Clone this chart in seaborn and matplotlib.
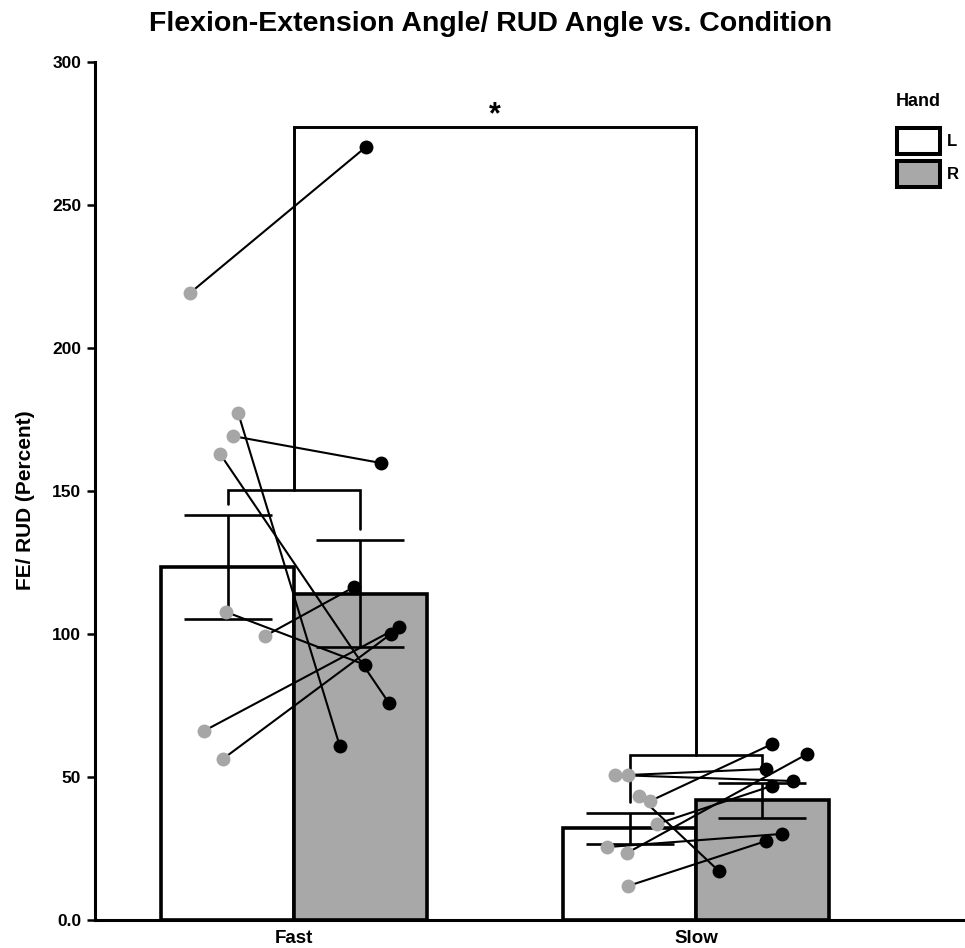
import matplotlib
matplotlib.use('Agg')
import matplotlib.pyplot as plt
import seaborn as sns
import pandas as pd
from matplotlib.patches import Patch

# ---------------- data ----------------
conditions = ['Fast', 'Slow']
hands = ['L', 'R']
mean_L = [123.4, 32.0]
mean_R = [114.0, 41.9]
sem_L = [18.2, 5.4]
sem_R = [18.7, 6.1]

# individual subjects (paired L -> R, same order)
fast_L = [219.2, 177.3, 169.2, 163.0, 107.7, 99.3, 66.1, 56.3]
fast_R = [270.3, 60.8, 159.8, 75.9, 89.2, 116.4, 102.4, 100.0]
slow_L = [50.7, 50.7, 43.4, 41.6, 33.6, 25.5, 23.4, 11.9]
slow_R = [48.6, 52.8, 17.1, 61.5, 46.9, 30.1, 58.0, 27.6]

# horizontal jitter of the subject points (category units)
jit_fast_L = [-0.259, -0.139, -0.152, -0.184, -0.169, -0.072, -0.224, -0.177]
jit_fast_R = [0.179, 0.114, 0.216, 0.236, 0.177, 0.149, 0.261, 0.241]
jit_slow_L = [-0.201, -0.169, -0.142, -0.114, -0.097, -0.221, -0.172, -0.169]
jit_slow_R = [0.241, 0.174, 0.057, 0.189, 0.189, 0.214, 0.276, 0.174]

# significance brackets
bracket_within = [150.3, 57.7]
bracket_between = 277.3
sig_label = '*'

# ---------------- style ----------------
sns.set_style('white')
FONT = ['Liberation Sans', 'DejaVu Sans']
plt.rcParams['font.family'] = FONT
plt.rcParams['font.weight'] = 'bold'
for k in ['text.color', 'axes.labelcolor', 'xtick.color', 'ytick.color',
          'axes.edgecolor']:
    plt.rcParams[k] = 'black'

GRAY_BAR = '#a8a8a8'
GRAY_PT = '#a6a6a6'

fig = plt.figure(figsize=(9.65, 9.48), dpi=100)
ax = fig.add_axes([95 / 965, 1 - 920 / 948, 1 - 95 / 965, (920 - 62) / 948])

df = pd.DataFrame({
    'Condition': conditions * 2,
    'Hand': [hands[0]] * 2 + [hands[1]] * 2,
    'Value': mean_L + mean_R,
})
sns.barplot(data=df, x='Condition', y='Value', hue='Hand', order=conditions,
            hue_order=hands, palette={'L': 'white', 'R': GRAY_BAR},
            width=0.66, edgecolor='black', linewidth=2.6, errorbar=None,
            saturation=1, legend=False, ax=ax, zorder=2)

off = 0.165
xL = [i - off for i in range(len(conditions))]
xR = [i + off for i in range(len(conditions))]
ax.errorbar(xL, mean_L, yerr=sem_L, fmt='none', ecolor='black',
            elinewidth=1.9, capsize=32, capthick=1.9, zorder=3)
ax.errorbar(xR, mean_R, yerr=sem_R, fmt='none', ecolor='black',
            elinewidth=1.9, capsize=32, capthick=1.9, zorder=3)

# paired subject points
pairs = [(fast_L, fast_R, jit_fast_L, jit_fast_R, 0),
         (slow_L, slow_R, jit_slow_L, jit_slow_R, 1)]
for vL, vR, jL, jR, ci in pairs:
    for a, b, ja, jb in zip(vL, vR, jL, jR):
        ax.plot([ci + ja, ci + jb], [a, b], color='black', lw=1.5, zorder=4)
    ax.scatter([ci + j for j in jL], vL, s=100, color=GRAY_PT, zorder=5,
               linewidths=0)
    ax.scatter([ci + j for j in jR], vR, s=100, color='black', zorder=5,
               linewidths=0)

# within-condition brackets
tops_L = [m + s for m, s in zip(mean_L, sem_L)]
tops_R = [m + s for m, s in zip(mean_R, sem_R)]
for ci in range(len(conditions)):
    yb = bracket_within[ci]
    ax.plot([xL[ci], xL[ci], xR[ci], xR[ci]],
            [tops_L[ci] + 4, yb, yb, tops_R[ci] + 4],
            color='black', lw=1.9, zorder=3, solid_joinstyle='miter')
# between-condition bracket
ax.plot([0, 0, 1, 1], [bracket_within[0], bracket_between, bracket_between,
                       bracket_within[1]],
        color='black', lw=2.1, zorder=3, solid_joinstyle='miter')
ax.text(0.5, bracket_between - 1.0, sig_label, ha='center', va='bottom',
        fontsize=22, fontweight='bold')

# axes
ax.set_xlim(-199 / 402, 671 / 402)
ax.set_ylim(0, 300)
ax.set_yticks([0, 50, 100, 150, 200, 250, 300])
ax.set_yticklabels(['0.0', '50', '100', '150', '200', '250', '300'])
for sp in ['top', 'right']:
    ax.spines[sp].set_visible(False)
for sp in ['left', 'bottom']:
    ax.spines[sp].set_linewidth(2.2)
    ax.spines[sp].set_color('black')
ax.tick_params(axis='y', length=6, width=1.8, direction='out', labelsize=12.5,
               pad=4, left=True)
ax.tick_params(axis='x', length=0, labelsize=13.5, pad=7)
for lab in ax.get_xticklabels() + ax.get_yticklabels():
    lab.set_fontweight('bold')
ax.set_xlabel('')
ax.set_ylabel('FE/ RUD (Percent)', fontsize=15, fontweight='bold')
ax.yaxis.set_label_coords(-0.069, 0.4895)

fig.suptitle('Flexion-Extension Angle/ RUD Angle vs. Condition', x=0.508,
             y=0.988, va='top', fontsize=20.5, fontweight='bold')

handles = [Patch(facecolor='white', edgecolor='black', linewidth=2.9),
           Patch(facecolor=GRAY_BAR, edgecolor='black', linewidth=2.9)]
leg = fig.legend(handles, hands, loc='upper left',
                 bbox_to_anchor=(897 / 965, 1 - 128 / 948), frameon=False,
                 fontsize=12, handlelength=2.57, handleheight=2.0,
                 labelspacing=0.42, handletextpad=0.45,
                 borderpad=0, borderaxespad=0)
for t in leg.get_texts():
    t.set_fontweight('bold')
fig.text(918 / 965, 1 - 101 / 948, 'Hand', ha='center', va='center',
         fontsize=13, fontweight='bold')

fig.savefig('out.png', dpi=100)
